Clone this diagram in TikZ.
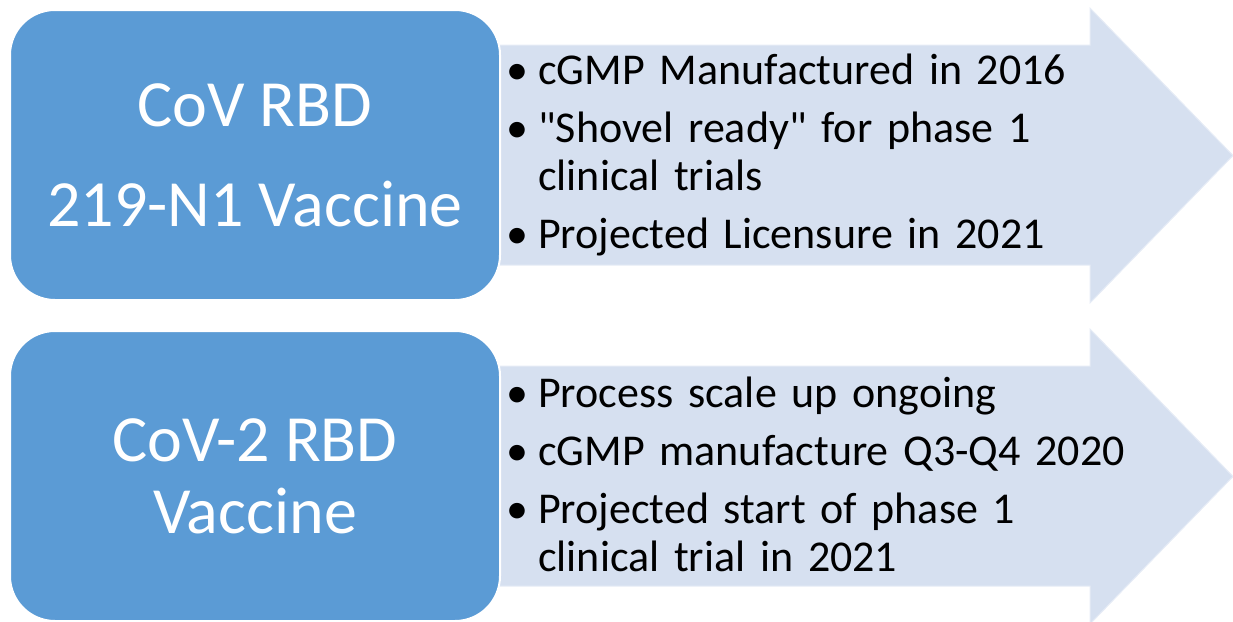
\documentclass[tikz,border=0pt]{standalone}
\usepackage{fontspec}
\setmainfont{Carlito}
\usetikzlibrary{positioning}
\definecolor{vaccineblue}{HTML}{5B9BD5}
\definecolor{arrowblue}{HTML}{D6E0F0}

\newcommand{\bulletitem}[1]{\ifhmode\par\vspace{10pt}\fi\hangindent=32pt\hangafter=1\noindent\makebox[32pt][l]{\textbullet}#1}

\begin{document}
\begin{tikzpicture}[
    x=1pt, y=-1pt,
    vaccine/.style={rectangle, rounded corners=45pt, minimum width=490pt, minimum height=290pt,
                    align=center, draw=white, line width=2pt, fill=vaccineblue, text=white},
    bullets/.style={text width=700pt, align=left, inner sep=0pt,
                    font=\fontsize{44}{48}\selectfont\setlength{\parskip}{0pt}},
    bigarrow/.style={fill=arrowblue, draw=white!40!arrowblue, line width=1pt}
]
\useasboundingbox (0,0) rectangle (1233,621);

% Arrows
\draw [bigarrow] (480,45) -- (1090,45) -- (1090,8) -- (1233,155.5) -- (1090,303) -- (1090,265) -- (480,265) -- cycle;
\draw [bigarrow] (480,366) -- (1090,366) -- (1090,329) -- (1233,476.5) -- (1090,624) -- (1090,586) -- (480,586) -- cycle;

% Vaccines
\node (cov) [vaccine, font=\fontsize{66}{100}\selectfont] at (255,155) {CoV RBD\\219-N1 Vaccine};
\node (cov2) [vaccine, font=\fontsize{66}{72}\selectfont] at (255,476) {CoV-2 RBD\\Vaccine};

% Bullets
\node (covtext) [bullets, below right=17pt and 5pt of cov.north east] {%
  \bulletitem{cGMP Manufactured in 2016}
  \bulletitem{\textquotedbl Shovel ready\textquotedbl{} for phase 1\newline clinical trials}
  \bulletitem{Projected Licensure in 2021}\par};
\node (cov2text) [bullets, below right=19pt and 5pt of cov2.north east] {%
  \bulletitem{Process scale up ongoing}
  \bulletitem{cGMP manufacture Q3-Q4 2020}
  \bulletitem{Projected start of phase 1\newline clinical trial in 2021}\par};

\end{tikzpicture}
\end{document}
